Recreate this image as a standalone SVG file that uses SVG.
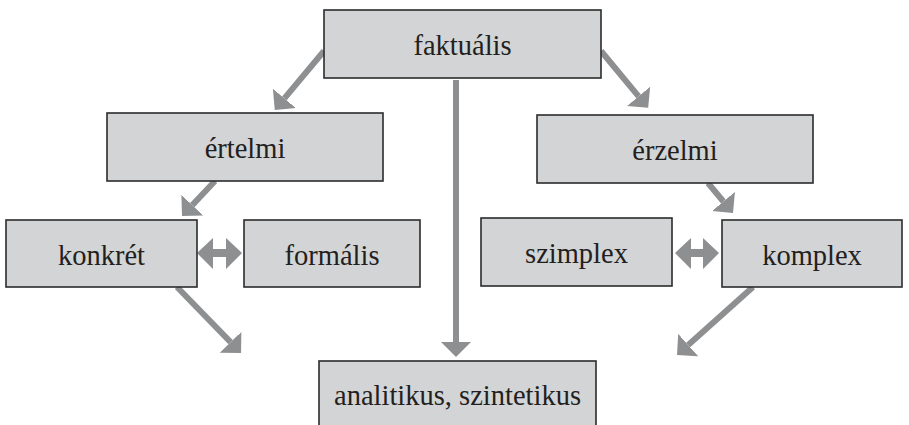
<svg xmlns="http://www.w3.org/2000/svg" width="909" height="425" viewBox="0 0 909 425">
  <style>
    .box { fill: #d3d4d6; stroke: #2b2b2b; stroke-width: 1.6; }
    .lbl { font-family: 'Liberation Serif', serif; font-size: 28.5px; fill: #231f20; text-anchor: middle; }
    .con { stroke: #8e8f91; stroke-width: 6; fill: none; marker-end: url(#head); }
    .dbl { fill: #8e8f91; }
  </style>
  <defs>
    <!-- solid triangular head, drawn ahead of the line end -->
    <marker id="head" markerUnits="userSpaceOnUse" viewBox="0 0 15 30" markerWidth="15" markerHeight="30" refX="0" refY="15" orient="auto">
      <path d="M0,0 L15,15 L0,30 z" fill="#8e8f91"/>
    </marker>
  </defs>
  <rect width="909" height="425" fill="#ffffff"/>

  <!-- connectors -->
  <g id="connectors">
    <line class="con" x1="324" y1="51" x2="284.4" y2="98.4"/>
    <line class="con" x1="601" y1="51" x2="638.6" y2="96.3"/>
    <line class="con" x1="456" y1="80" x2="456" y2="342"/>
    <line class="con" x1="215" y1="181" x2="192.3" y2="205.1"/>
    <line class="con" x1="708" y1="183" x2="723.4" y2="201.5"/>
    <line class="con" x1="177" y1="287" x2="230.6" y2="342.2"/>
    <line class="con" x1="753" y1="287" x2="688.2" y2="345"/>
    <polygon class="dbl" points="197,253 213,238 213,249 226,249 226,238 242,253 226,269 226,257 213,257 213,269"/>
    <polygon class="dbl" points="675,253 691,238 691,249 703,249 703,238 719,253 703,269 703,257 691,257 691,269"/>
  </g>

  <g id="faktualis">
    <rect class="box" x="324" y="10" width="277" height="68"/>
    <text class="lbl" x="462.5" y="55">faktuális</text>
  </g>
  <g id="ertelmi">
    <rect class="box" x="107" y="113" width="276" height="68"/>
    <text class="lbl" x="245" y="158">értelmi</text>
  </g>
  <g id="erzelmi">
    <rect class="box" x="537" y="115" width="276" height="68"/>
    <text class="lbl" x="675" y="160">érzelmi</text>
  </g>
  <g id="konkret">
    <rect class="box" x="6" y="220" width="191" height="67"/>
    <text class="lbl" x="101.5" y="265">konkrét</text>
  </g>
  <g id="formalis">
    <rect class="box" x="244" y="220" width="176" height="67"/>
    <text class="lbl" x="332" y="265">formális</text>
  </g>
  <g id="szimplex">
    <rect class="box" x="481" y="218" width="191" height="68"/>
    <text class="lbl" x="576.5" y="263">szimplex</text>
  </g>
  <g id="komplex">
    <rect class="box" x="722" y="220" width="180" height="67"/>
    <text class="lbl" x="812" y="265">komplex</text>
  </g>
  <g id="analitikus">
    <rect class="box" x="319" y="361" width="277" height="70"/>
    <text class="lbl" x="457.5" y="405">analitikus, szintetikus</text>
  </g>
</svg>
